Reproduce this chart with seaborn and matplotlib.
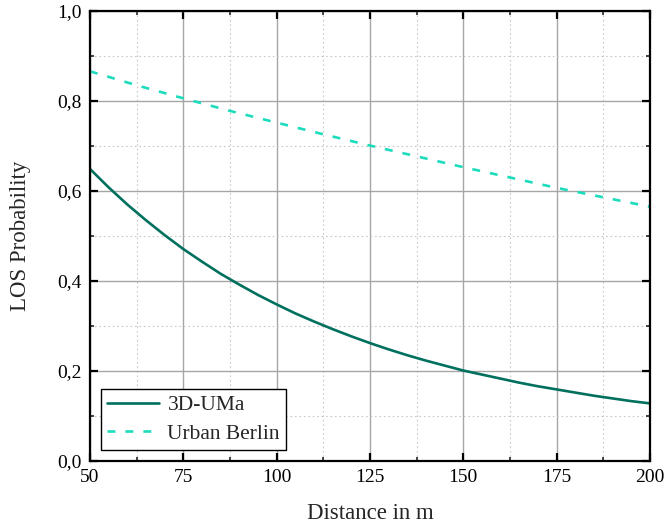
import matplotlib
matplotlib.use("Agg")
import matplotlib.pyplot as plt
import seaborn as sns
import pandas as pd
from matplotlib.ticker import MultipleLocator, FuncFormatter

# Data
dist_uma = [50, 55, 60, 65, 70, 75, 80, 85, 90, 95, 100, 105, 110, 115, 120, 125,
            130, 135, 140, 145, 150, 155, 160, 165, 170, 175, 180, 185, 190, 195, 200]
p_uma = [0.649, 0.608, 0.570, 0.535, 0.502, 0.471, 0.443, 0.416, 0.392, 0.369, 0.348,
         0.328, 0.310, 0.293, 0.277, 0.262, 0.248, 0.235, 0.223, 0.212, 0.201, 0.192,
         0.183, 0.174, 0.166, 0.159, 0.152, 0.145, 0.139, 0.133, 0.128]
dist_berlin = [50, 62.5, 75, 87.5, 100, 112.5, 125, 137.5, 150, 162.5, 175, 187.5, 200]
p_berlin = [0.866, 0.835, 0.806, 0.778, 0.752, 0.726, 0.701, 0.677, 0.653, 0.630,
            0.607, 0.586, 0.565]
series_names = ["3D-UMa", "Urban Berlin"]
colors = ["#00705e", "#1ddcbd"]

sns.set_style("ticks")
plt.rcParams['font.family'] = ['Liberation Serif', 'DejaVu Serif']
plt.rcParams['mathtext.fontset'] = 'stix'

fig = plt.figure(figsize=(6.65, 5.32), dpi=100)
ax = fig.add_axes([0.1353, 0.1335, 0.8421, 0.8458])

df1 = pd.DataFrame({"d": dist_uma, "p": p_uma})
df2 = pd.DataFrame({"d": dist_berlin, "p": p_berlin})
sns.lineplot(data=df1, x="d", y="p", ax=ax, color=colors[0], lw=1.9, label=series_names[0])
sns.lineplot(data=df2, x="d", y="p", ax=ax, color=colors[1], lw=1.9, label=series_names[1],
             dashes=False)
ax.lines[1].set_dashes((3.0, 3.8))

ax.set_xlim(50, 200)
ax.set_ylim(0, 1.0)
ax.xaxis.set_major_locator(MultipleLocator(25))
ax.xaxis.set_minor_locator(MultipleLocator(12.5))
ax.yaxis.set_major_locator(MultipleLocator(0.2))
ax.yaxis.set_minor_locator(MultipleLocator(0.1))
ax.yaxis.set_major_formatter(FuncFormatter(lambda v, p: f"{v:.1f}".replace(".", ",")))
ax.xaxis.set_major_formatter(FuncFormatter(lambda v, p: f"{v:.0f}"))

ax.grid(which="major", color="#a6a6a6", lw=1.0, ls="-")
ax.grid(which="minor", color="#c8c8c8", lw=0.8, ls=(0, (1.5, 2.5)))
ax.set_axisbelow(True)

for s in ax.spines.values():
    s.set_linewidth(1.6)
    s.set_color("black")
    s.set_visible(True)

ax.tick_params(which="major", direction="in", length=6, width=1.6, top=True, right=True,
               labelsize=14, pad=6, colors="black")
ax.tick_params(which="minor", direction="in", length=3, width=1.2, top=True, right=True)

ax.set_xlabel("Distance in m", fontsize=16.5, labelpad=12)
ax.set_ylabel("LOS Probability", fontsize=16.5, labelpad=19)

leg = ax.legend(loc="lower left", fontsize=15.5, frameon=True, fancybox=False,
                edgecolor="black", framealpha=1, borderpad=0.3, handlelength=2.4,
                labelspacing=0.4, borderaxespad=0.5, handletextpad=0.4)
leg.get_frame().set_linewidth(1.0)

fig.savefig("out.png", dpi=100)
